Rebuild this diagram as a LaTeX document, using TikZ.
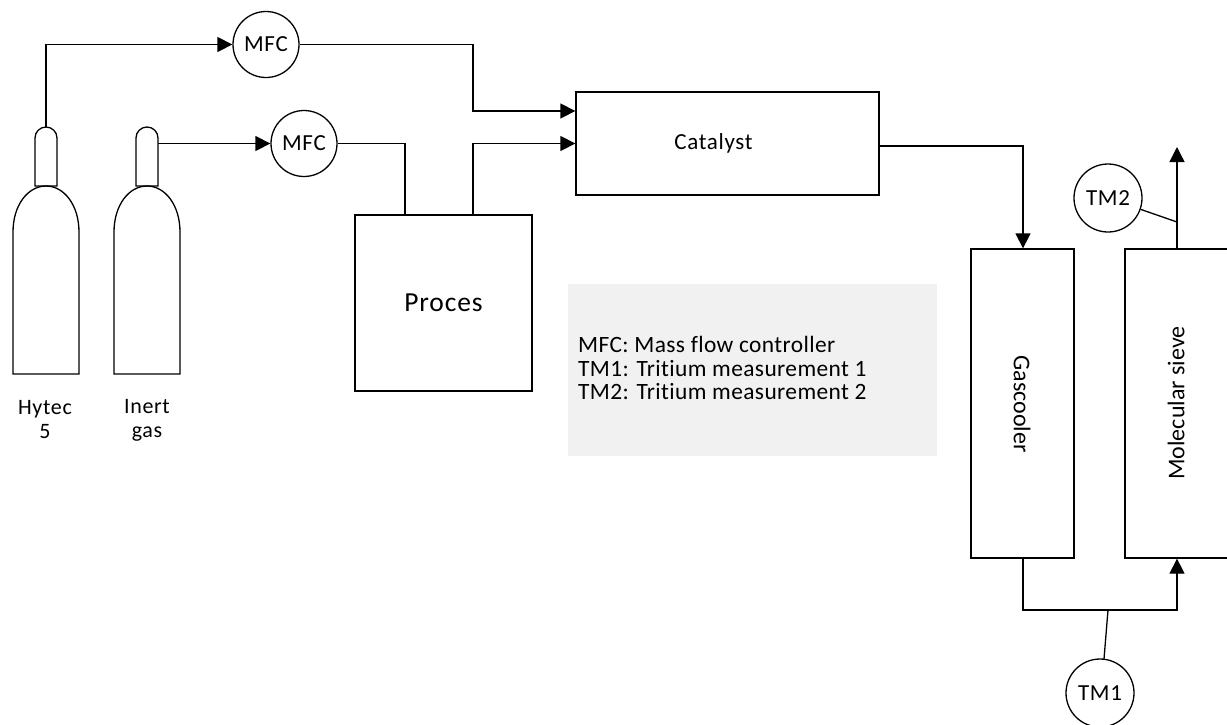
\documentclass[tikz,border=0pt]{standalone}
\usepackage{fontspec}
\setmainfont[Ligatures=CommonOff,LetterSpace=3]{Carlito}
\newfontfamily\plainf[Ligatures=CommonOff]{Carlito}
\newfontfamily\notef[Ligatures=CommonOff,LetterSpace=1.7]{Carlito}
\usetikzlibrary{arrows.meta,calc}
\tikzset{
  line/.style={draw=black,line width=1.3pt},
  flow/.style={line,-{Triangle[length=15pt,width=15pt]}},
  circ/.style={circle,line,minimum size=66pt,inner sep=0pt,font=\fontsize{23}{25}\selectfont},
  boxn/.style={rectangle,line,inner sep=0pt,font=\fontsize{23}{25}\selectfont},
  lbl/.style={align=center,font=\fontsize{22}{24}\selectfont,inner sep=0pt},
  vert/.style={inner sep=0pt,font=\plainf\fontsize{24}{26}\selectfont},
}
\begin{document}
\begin{tikzpicture}[x=1pt,y=-1pt]
\useasboundingbox (0,0) rectangle (1227,724);
% note box
\node[fill=black!5.5,minimum width=369pt,minimum height=172pt,inner sep=0pt] (note) at (752.5,370) {};
\node[anchor=west,align=left,inner sep=0pt,font=\notef\fontsize{23.4}{23.5}\selectfont] (notetext) at (578,368) {MFC: Mass flow controller\\TM1: Tritium measurement 1\\TM2: Tritium measurement 2};
% cylinders
\foreach \n/\c in {a/46,b/147}{
  \draw[line] (\c-11,186) -- (\c-11,138) arc[start angle=180,end angle=360,radius=11] -- (\c+11,186) -- cycle;
  \draw[line] (\c-33,374) -- (\c-33,232) .. controls (\c-33,205) and (\c-18,186) .. (\c,186) .. controls (\c+18,186) and (\c+33,205) .. (\c+33,232) -- (\c+33,374) -- cycle;
  \coordinate (neck\n) at (\c,127);
}
\coordinate (neckbr) at (158,143.5);
\node[lbl] (l1) at (45,420) {Hytec\\5};
\node[lbl] (l2) at (147,420) {Inert\\gas};
% nodes
\node[circ] (mfc1) at (266,44.5) {MFC};
\node[circ] (mfc2) at (304,143.5) {MFC};
\node[boxn,minimum width=177pt,minimum height=176pt,font=\fontsize{27.5}{30}\selectfont] (proces) at (443.5,303) {Proces};
\node[boxn,minimum width=303pt,minimum height=103pt] (cat) at (727.5,143.5) {};
\node[inner sep=0pt,font=\fontsize{23}{25}\selectfont] (catt) at (713.5,143) {Catalyst};
\node[boxn,minimum width=103pt,minimum height=309pt] (cool) at (1022.5,403.5) {};
\node[vert] (coolt) at (1022,404) {\rotatebox{-90}{Gascooler}};
\node[boxn,minimum width=140pt,minimum height=309pt] (sieve) at (1195,403.5) {};
\node[vert] (sievet) at (1176,403) {\rotatebox{90}{Molecular sieve}};
\node[circ,minimum size=68pt] (tm2) at (1108,198) {TM2};
\node[circ,minimum size=68pt] (tm1) at (1100,693) {TM1};
\coordinate (top) at (1177,147);
\coordinate (j1) at (1177,222);
\coordinate (j2) at (1108,610);
\coordinate (tm1a) at (1104,659);
% connectors
\draw[flow] (necka) |- (mfc1.west);
\draw[flow] (neckbr) -- (mfc2.west);
\draw[flow] (mfc1.east) -- (473,44.5) -- (473,111) -- (cat.west |- 0,111);
\draw[line] (mfc2.east) -- (405,143.5) -- (proces.north -| 405,0);
\draw[flow] (proces.north -| 473,0) -- (473,143.5) -- (cat.west |- 0,143.5);
\draw[flow] (cat.east |- 0,146) -- (1023,146) -- (cool.north -| 1023,0);
\draw[flow] (cool.south -| 1023,0) -- (1023,610) -- (1177,610) -- (sieve.south -| 1177,0);
\draw[flow] (sieve.north -| 1177,0) -- (top);
\draw[line] (tm2) -- (j1);
\draw[line] (tm1a) -- (j2);
\end{tikzpicture}
\end{document}
